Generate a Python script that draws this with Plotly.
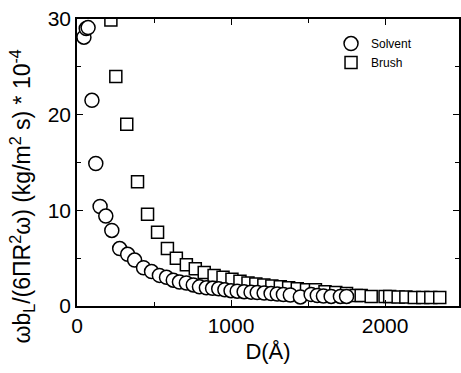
import plotly.graph_objects as go

solvent_D = [45, 60, 72, 97, 122, 150, 187, 226, 277, 329, 374, 432, 484, 535, 581, 625, 665, 710, 755, 795,
             840, 880, 920, 960, 1000, 1040, 1085, 1130, 1170, 1215, 1260, 1300, 1340, 1385, 1450, 1520,
             1560, 1600, 1650, 1710, 1750]
solvent_y = [28.1, 29.0, 29.1, 21.5, 14.9, 10.4, 9.4, 7.9, 6.0, 5.4, 4.8, 4.0, 3.6, 3.2, 3.0, 2.7, 2.5, 2.4, 2.2, 2.0,
             1.9, 1.85, 1.8, 1.7, 1.6, 1.55, 1.5, 1.45, 1.4, 1.35, 1.3, 1.25, 1.2, 1.15, 0.95, 1.2,
             1.1, 1.05, 1.0, 1.0, 1.0]

brush_D = [220, 252, 323, 393, 458, 523, 587, 645, 710, 768, 826, 890, 948, 1006, 1058, 1110, 1161, 1213, 1265,
           1320, 1374, 1430, 1490, 1548, 1610, 1680, 1750, 1813, 1845, 1910, 2000, 2030, 2085, 2135, 2190,
           2245, 2297, 2355]
brush_y = [29.9, 24.0, 19.0, 13.0, 9.6, 7.7, 6.0, 5.0, 4.3, 3.9, 3.5, 3.2, 3.0, 2.8, 2.6, 2.4, 2.3, 2.2, 2.1,
           2.0, 1.9, 1.8, 1.7, 1.7, 1.5, 1.4, 1.3, 1.1, 1.1, 1.0, 1.0, 1.0, 0.95, 0.95, 0.9,
           0.9, 0.9, 0.9]

x_ticks = [0, 1000, 2000]
y_ticks = [0, 10, 20, 30]
y_title = "ωb<sub>L</sub>/(6ΠR<sup>2</sup>ω) (kg/m<sup>2</sup> s) * 10<sup>-4</sup>"
x_title = "D(Å)"

FONT = "Liberation Sans, Arial, sans-serif"

fig = go.Figure()
fig.add_trace(go.Scatter(
    x=brush_D, y=brush_y, mode="markers", name="Brush", legendrank=2,
    marker=dict(symbol="square", size=12, color="white", line=dict(color="black", width=1.5)),
))
fig.add_trace(go.Scatter(
    x=solvent_D, y=solvent_y, mode="markers", name="Solvent", legendrank=1,
    marker=dict(symbol="circle", size=14, color="white", line=dict(color="black", width=1.5)),
))

axis_common = dict(
    showgrid=False, zeroline=False, showline=True, linecolor="black", linewidth=1.5,
    mirror="ticks", ticks="inside", ticklen=6, tickwidth=1.2, tickcolor="black",
    tickfont=dict(family=FONT, size=21, color="black"),
)

fig.update_xaxes(
    range=[0, 2480], tickvals=x_ticks, ticktext=[str(v) for v in x_ticks],
    minor=dict(ticks="inside", ticklen=4, tickcolor="black", dtick=500, tick0=0),
    title=dict(text=x_title, font=dict(family=FONT, size=22, color="black"), standoff=8),
    **axis_common,
)
fig.update_yaxes(
    range=[0, 30], tickvals=y_ticks, ticktext=[str(v) for v in y_ticks],
    minor=dict(ticks="inside", ticklen=4, tickcolor="black", dtick=5, tick0=0),
    **axis_common,
)

fig.add_annotation(
    text=y_title, textangle=-90, xref="paper", yref="paper",
    x=-0.145, y=0.38, xanchor="center", yanchor="middle", showarrow=False,
    font=dict(family=FONT, size=23, color="black"),
)

fig.update_layout(
    width=461, height=373,
    margin=dict(l=77, r=0, t=19, b=67),
    paper_bgcolor="white", plot_bgcolor="white",
    showlegend=True,
    legend=dict(x=0.665, y=0.965, xanchor="left", yanchor="top", bgcolor="rgba(0,0,0,0)",
                font=dict(family=FONT, size=12, color="black"), itemwidth=30,
                tracegroupgap=0),
)

fig.write_html("out.html", config={"displayModeBar": False},
               post_script="document.body.style.margin='0';document.body.style.overflow='hidden';")
